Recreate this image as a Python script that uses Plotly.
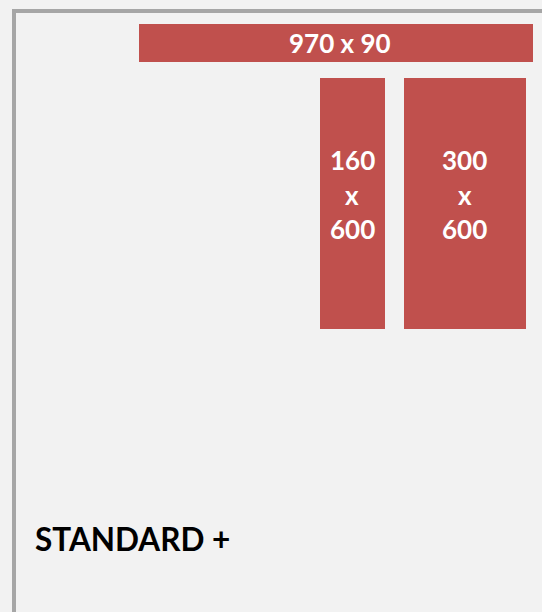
import plotly.graph_objects as go

# ---- data: ad unit sizes (width x height, in ad pixels) ----
ad_labels = ["970 x 90", "160 x 600", "300 x 600"]
ad_widths = [970, 160, 300]
ad_heights = [90, 600, 600]
panel_title = "STANDARD +"

# ---- layout placement of each unit (in ad-pixel units) ----
unit_left = [342.4, 788.2, 995.0]
unit_top = [57.4, 186.6, 186.6]

FIG_W, FIG_H = 542, 612
SCALE_X = 0.406   # screen px per ad px (horizontal)
SCALE_Y = 0.418   # screen px per ad px (vertical)

RED = "#C0504D"
BG = "#F2F2F2"
BORDER = "#A6A6A6"
FONT = "Lato"

fig = go.Figure()
fig.add_trace(go.Bar(
    x=[l + w / 2 for l, w in zip(unit_left, ad_widths)],
    y=ad_heights,
    base=unit_top,
    width=ad_widths,
    marker=dict(color=RED, line=dict(width=0)),
    hoverinfo="skip",
    showlegend=False,
))

annotations = []
for lab, l, t, w, h in zip(ad_labels, unit_left, unit_top, ad_widths, ad_heights):
    cx = l + w / 2
    cy = t + h / 2
    if w > h:
        annotations.append(dict(
            x=cx, y=cy, xref="x", yref="y", text="<b>" + lab + "</b>",
            showarrow=False, xanchor="center", yanchor="middle",
            font=dict(family=FONT, size=26, color="white"), xshift=4,
        ))
    else:
        parts = lab.split(" ")
        shifts = [43, 8.5, -26]
        for p, s in zip(parts, shifts):
            annotations.append(dict(
                x=cx, y=cy, xref="x", yref="y", text="<b>" + p + "</b>",
                showarrow=False, xanchor="center", yanchor="middle",
                font=dict(family=FONT, size=26, color="white"), yshift=s,
            ))

annotations.append(dict(
    x=33 / FIG_W, y=1 - 539 / FIG_H, xref="paper", yref="paper",
    text="<b>" + panel_title + "</b>", showarrow=False,
    xanchor="left", yanchor="middle",
    font=dict(family=FONT, size=31.5, color="black"),
))

fig.update_layout(
    width=FIG_W, height=FIG_H,
    margin=dict(l=0, r=0, t=0, b=0, pad=0),
    paper_bgcolor=BG, plot_bgcolor=BG,
    xaxis=dict(range=[0, FIG_W / SCALE_X], visible=False, fixedrange=True),
    yaxis=dict(range=[FIG_H / SCALE_Y, 0], visible=False, fixedrange=True),
    annotations=annotations,
    shapes=[dict(
        type="rect", xref="paper", yref="paper",
        x0=14 / FIG_W, x1=1.1, y0=-0.1, y1=1 - 11 / FIG_H,
        line=dict(color=BORDER, width=4), fillcolor="rgba(0,0,0,0)",
        layer="below",
    )],
    bargap=0,
)

fig.write_html(
    "out.html",
    config={"displayModeBar": False},
    post_script="document.body.style.margin='0';document.body.style.background='%s';" % BG,
)
